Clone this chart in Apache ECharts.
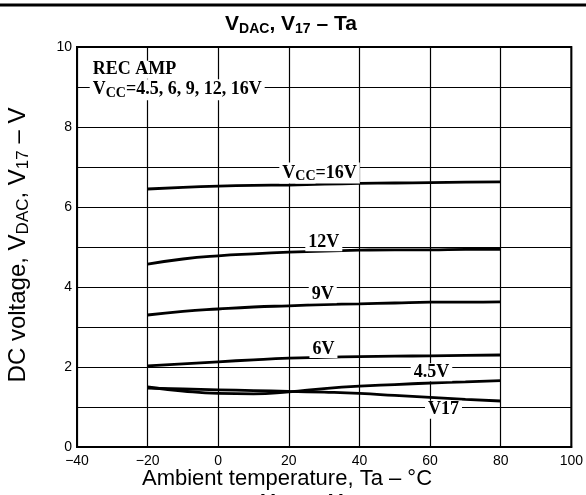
<!DOCTYPE html>
<html>
<head>
<meta charset="utf-8">
<script src="https://cdn.jsdelivr.net/npm/echarts@6/dist/echarts.min.js"></script>
<style>
  html, body { margin: 0; padding: 0; background: #fff; }
  #chart { width: 586px; height: 495px; }
</style>
</head>
<body>
<div id="chart"></div>
<script>
// Ambient temperature (°C) sample points
const temps = [-20, -10, 0, 10, 20, 30, 40, 50, 60, 70, 80];

// DC voltage V_DAC for each supply voltage, and V17
const vdac16 = [6.45, 6.49, 6.52, 6.54, 6.55, 6.57, 6.59, 6.60, 6.61, 6.62, 6.63];
const vdac12 = [4.57, 4.70, 4.78, 4.83, 4.87, 4.90, 4.92, 4.93, 4.93, 4.94, 4.94];
const vdac9  = [3.30, 3.39, 3.45, 3.50, 3.53, 3.56, 3.58, 3.60, 3.62, 3.62, 3.63];
const vdac6  = [2.03, 2.08, 2.13, 2.18, 2.22, 2.24, 2.26, 2.27, 2.28, 2.29, 2.30];
const vdac45 = [1.50, 1.40, 1.34, 1.33, 1.38, 1.46, 1.52, 1.56, 1.60, 1.63, 1.66];
const v17    = [1.47, 1.45, 1.43, 1.41, 1.39, 1.37, 1.34, 1.29, 1.24, 1.19, 1.15];

// Axis ticks
const xTicks = [-40, -20, 0, 20, 40, 60, 80, 100];
const yTicks = [0, 2, 4, 6, 8, 10];

const curves = [
  { name: 'Vcc=16V', values: vdac16 },
  { name: 'Vcc=12V', values: vdac12 },
  { name: 'Vcc=9V', values: vdac9 },
  { name: 'Vcc=6V', values: vdac6 },
  { name: 'Vcc=4.5V', values: vdac45 },
  { name: 'V17', values: v17 }
];

// Curve annotations placed in data coordinates
const notes = [
  { text: 'V{s|CC}=16V', at: [28.7, 6.85], align: 'center' },
  { text: '12V', at: [29.9, 5.12], align: 'center' },
  { text: '9V', at: [29.6, 3.82], align: 'center' },
  { text: '6V', at: [29.8, 2.45], align: 'center' },
  { text: '4.5V', at: [60.4, 1.87], align: 'center' },
  { text: 'V17', at: [63.8, 0.93], align: 'center' },
  { text: 'REC AMP', at: [-36.4, 9.43], align: 'left' },
  { text: 'V{s|CC}=4.5, 6, 9, 12, 16V', at: [-36.4, 8.93], align: 'left' }
];

const serif = '"Liberation Serif", "DejaVu Serif", serif';
const sans = '"Liberation Sans", Arial, sans-serif';
const minus = v => (v < 0 ? '\u2212' + Math.abs(v) : String(v));

const chart = echarts.init(document.getElementById('chart'), null, { renderer: 'canvas' });

const lineSeries = curves.map(c => ({
  name: c.name,
  type: 'line',
  smooth: true,
  showSymbol: false,
  symbol: 'none',
  data: temps.map((t, i) => [t, c.values[i]]),
  lineStyle: { color: '#000', width: 2.8 },
  z: 3
}));

const noteSeries = {
  type: 'scatter',
  symbolSize: 0,
  silent: true,
  itemStyle: { color: '#000', opacity: 1 },
  z: 5,
  data: notes.map(n => ({
    value: n.at,
    label: {
      show: true,
      position: 'inside',
      align: n.align,
      verticalAlign: 'middle',
      formatter: n.text,
      fontFamily: serif,
      fontSize: 18,
      fontWeight: 'bold',
      color: '#000',
      opacity: 1,
      textBorderWidth: 0,
      textBorderColor: 'transparent',
      backgroundColor: '#fff',
      padding: [0, 3, 0, 3],
      rich: {
        s: {
          fontFamily: serif, fontSize: 14, fontWeight: 'bold', color: '#000',
          textBorderWidth: 0, textBorderColor: 'transparent',
          padding: [7, 0, 0, 0], backgroundColor: '#fff'
        }
      }
    }
  }))
};

chart.setOption({
  animation: false,
  backgroundColor: '#fff',
  grid: {
    left: 77, right: 14, top: 47, bottom: 48,
    show: true, borderColor: '#000', borderWidth: 2, backgroundColor: 'transparent'
  },
  title: {
    text: 'V{s|DAC}, V{s|17} \u2013 Ta',
    left: 286, top: 8,
    textAlign: 'center',
    textStyle: {
      fontFamily: sans, fontSize: 21, fontWeight: 'bold', color: '#000',
      rich: {
        s: { fontFamily: sans, fontSize: 14, fontWeight: 'bold', color: '#000', padding: [9, 0, 0, 0] }
      }
    }
  },
  xAxis: {
    type: 'value',
    min: -40, max: 100, interval: 20,
    axisLine: { show: true, onZero: false, lineStyle: { color: '#000', width: 2 } },
    axisTick: { show: false },
    axisLabel: {
      margin: 7, color: '#000', fontFamily: sans, fontSize: 14,
      formatter: v => (xTicks.includes(v) ? minus(v) : '')
    },
    splitLine: { show: true, lineStyle: { color: '#000', width: 1.2 } }
  },
  yAxis: {
    type: 'value',
    min: 0, max: 10, interval: 1,
    axisLine: { show: true, onZero: false, lineStyle: { color: '#000', width: 2 } },
    axisTick: { show: false },
    axisLabel: {
      margin: 5, color: '#000', fontFamily: sans, fontSize: 14,
      formatter: v => (yTicks.includes(v) ? String(v) : '')
    },
    splitLine: { show: true, lineStyle: { color: '#000', width: 1.2 } }
  },
  graphic: [
    {
      type: 'line', z: 10,
      shape: { x1: 0, y1: 5, x2: 586, y2: 5 },
      style: { stroke: '#000', lineWidth: 3 }
    },
    {
      type: 'text', z: 10,
      x: 287, y: 479,
      style: {
        text: 'Ambient temperature, Ta \u2013 \u00b0C',
        fontFamily: sans, fontSize: 22, fill: '#000',
        align: 'center', verticalAlign: 'middle'
      }
    },
    {
      type: 'text', z: 10,
      x: 18, y: 245,
      rotation: Math.PI / 2,
      style: {
        text: 'DC voltage, V{s|DAC}, V{s|17} \u2013 V',
        fontFamily: sans, fontSize: 24, fill: '#000',
        align: 'center', verticalAlign: 'middle',
        rich: { s: { fontFamily: sans, fontSize: 17, fill: '#000', padding: [10, 0, 0, 0] } }
      }
    },
    {
      type: 'text', z: 10,
      x: 312, y: 491,
      style: {
        text: 'V{s|DAC} \u2013 V{s|CC}',
        fontFamily: sans, fontSize: 21, fontWeight: 'bold', fill: '#000',
        align: 'center', verticalAlign: 'top',
        rich: { s: { fontFamily: sans, fontSize: 14, fontWeight: 'bold', fill: '#000', padding: [9, 0, 0, 0] } }
      }
    }
  ],
  series: [...lineSeries, noteSeries]
});
</script>
</body>
</html>
